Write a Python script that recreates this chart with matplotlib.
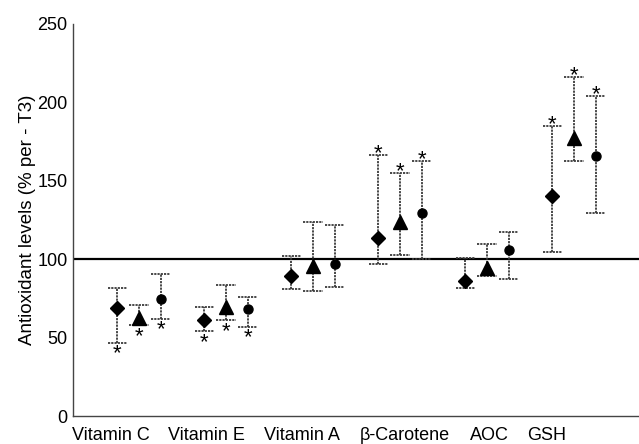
import numpy as np
import matplotlib
matplotlib.use("Agg")
import matplotlib.pyplot as plt

plt.rcParams['font.family'] = ['Liberation Sans', 'DejaVu Sans']

groups = ["Vitamin C", "Vitamin E", "Vitamin A", "\u03b2-Carotene", "AOC", "GSH"]
label_pos = [0.68, 1.78, 2.87, 4.05, 5.03, 5.69]

# diamond / triangle / circle series (% per - T3)
diamond = [69, 61, 89, 113.5, 86, 140]
diamond_lo = [46.6, 54.2, 81, 96.9, 81.6, 104.6]
diamond_hi = [81.6, 69.5, 102, 166.5, 101, 185]

triangle = [62.5, 69.5, 95.7, 123.7, 94.4, 177.3]
triangle_lo = [58, 61.2, 79.7, 102.7, 89.3, 162.6]
triangle_hi = [70.8, 83.5, 123.7, 155, 109.7, 216]

circle = [74.6, 68.2, 97, 129.5, 106, 165.8]
circle_lo = [61.9, 56.8, 82.3, 100, 87.4, 129.5]
circle_hi = [90.6, 75.9, 121.8, 162.6, 117.3, 204]

# significance stars per group
stars = ['below', 'below', None, 'above', None, 'above']

fig = plt.figure(figsize=(6.39, 4.44), dpi=100)
ax = fig.add_axes([73/639, 28/444, 566/639, 392/444])

x = np.arange(1, 7)
series = [
    (x - 0.25, diamond, diamond_lo, diamond_hi, 'D', 7),
    (x, triangle, triangle_lo, triangle_hi, '^', 10),
    (x + 0.25, circle, circle_lo, circle_hi, 'o', 6.5),
]

ax.axhline(100, color='black', lw=1.6, zorder=1)

cw = 0.11
ls = (0, (1.2, 0.6))
for xs, ys, lo, hi, mk, ms in series:
    ax.vlines(xs, lo, hi, color='#3a3a3a', lw=1.3, linestyles=ls, zorder=2)
    ax.hlines(lo, xs - cw, xs + cw, color='#3a3a3a', lw=1.3, linestyles=ls, zorder=2)
    ax.hlines(hi, xs - cw, xs + cw, color='#3a3a3a', lw=1.3, linestyles=ls, zorder=2)
    ax.plot(xs, ys, linestyle='none', marker=mk, ms=ms, color='black', zorder=3)
    for i in range(6):
        if stars[i] == 'below':
            ax.annotate('*', (xs[i], lo[i]), xytext=(0, -0.5), textcoords='offset points',
                        ha='center', va='top', fontsize=16)
        elif stars[i] == 'above':
            ax.annotate('*', (xs[i], hi[i]), xytext=(0, -6.5), textcoords='offset points',
                        ha='center', va='bottom', fontsize=16)

ax.set_xlim(0.241, 6.747)
ax.set_ylim(0, 250)
ax.set_yticks([0, 50, 100, 150, 200, 250])
ax.set_xticks(label_pos)
ax.set_xticklabels(groups)
ax.tick_params(axis='both', length=0, labelsize=13)
ax.tick_params(axis='y', pad=4)
ax.tick_params(axis='x', pad=8)
ax.set_ylabel('Antioxidant levels (% per - T3)', fontsize=13.5, labelpad=1)

for s in ['top', 'right']:
    ax.spines[s].set_visible(False)
for s in ['left', 'bottom']:
    ax.spines[s].set_color('#444444')
    ax.spines[s].set_linewidth(1.0)

fig.savefig('out.png', dpi=100)
